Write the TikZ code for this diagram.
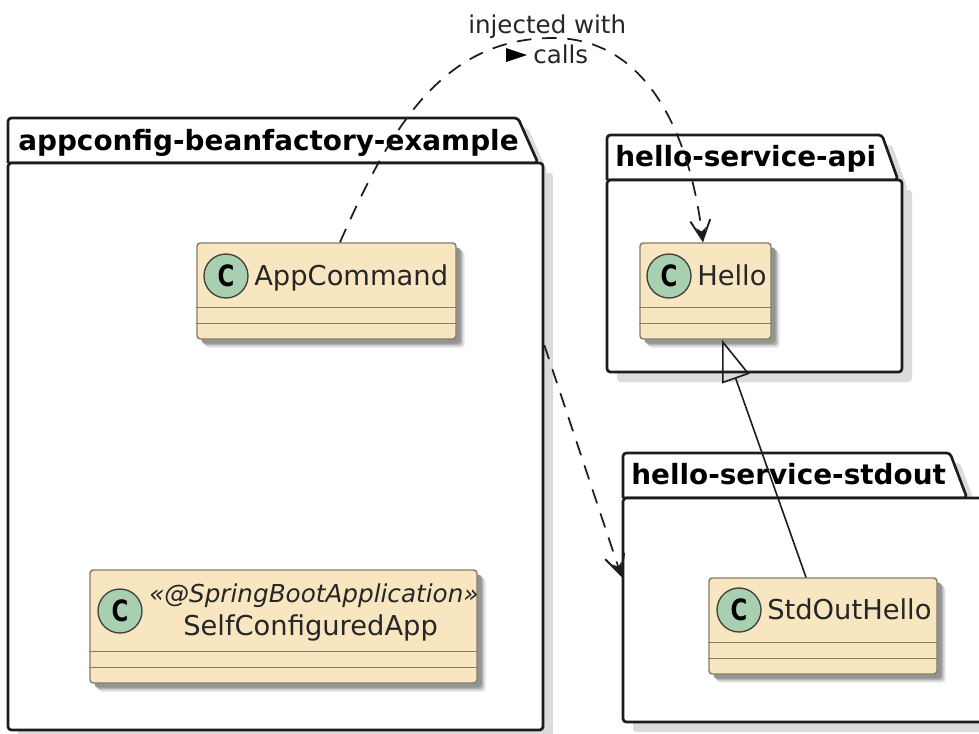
\documentclass[tikz,border=0pt]{standalone}
\usepackage{fontspec}
\setmainfont{DejaVu Sans}
\usetikzlibrary{arrows.meta,shadows}
\def\pxu{0.75pt}
\definecolor{classfill}{HTML}{F8E6C0}
\definecolor{classline}{HTML}{857B68}
\definecolor{spotfill}{HTML}{A8CFB0}
\definecolor{inkline}{HTML}{1C1C1C}
\tikzset{
  pkgshadow/.style={general shadow={shadow xshift=7.5pt,shadow yshift=-7.5pt,fill=black!14}},
  pkgbody/.style={draw=inkline,fill=white,line width=2pt,rounded corners=2.5pt,inner sep=0pt,pkgshadow},
  pkgtab/.style={draw=inkline,fill=white,line width=2pt,rounded corners=2.5pt,pkgshadow},
  pkgtitle/.style={anchor=base west,inner sep=0pt,font=\fontsize{20.9}{25}\selectfont\bfseries},
  classbox/.style={draw=classline,fill=classfill,line width=1.1pt,rounded corners=2.5pt,inner sep=0pt,
    general shadow={shadow xshift=6.6pt,shadow yshift=-6.6pt,fill=black!8},
    general shadow={shadow xshift=5.6pt,shadow yshift=-5.6pt,fill=black!18},
    general shadow={shadow xshift=4.6pt,shadow yshift=-4.6pt,fill=black!30},
    general shadow={shadow xshift=3.4pt,shadow yshift=-3.4pt,fill=black!42}},
  classsep/.style={draw=classline,line width=1.1pt},
  classname/.style={anchor=base west,inner sep=0pt,text=black!85,font=\fontsize{20.5}{25}\selectfont},
  stereotext/.style={anchor=base west,inner sep=0pt,text=black!85,font=\fontsize{18.5}{22}\selectfont\itshape},
  spot/.style={circle,draw=black!75,fill=spotfill,line width=1pt,minimum size=44*\pxu,inner sep=0pt,
    font=\fontsize{22}{25}\selectfont\bfseries},
  linktext/.style={anchor=base west,inner sep=0pt,text=black!85,font=\fontsize{18.4}{22}\selectfont},
  dep/.style={draw=inkline,line width=1.3pt,dash pattern=on 11pt off 8pt,
    -{Straight Barb[length=15pt,width=15pt,line width=1.4pt,sep=-11pt]Stealth[length=11pt,width=7pt,inset=3pt]}},
  inherit/.style={draw=inkline,line width=1.2pt,{Triangle[open,length=31pt,width=21.5pt]}-}
}
\newcommand{\spotc}{\scalebox{0.78}[1]{C}}
\begin{document}
\begin{tikzpicture}[x=0.75pt,y=-0.75pt]
\clip (0,0) rectangle (979,733);
% appconfig package
\draw[pkgtab] (8,163) -- (8,118) -- (518,118) -- (538,163) -- (8,163);
\node[pkgbody,minimum width=535*\pxu,minimum height=567*\pxu] (appbody) at (275.5,446.5) {};
\node[pkgtitle] (apptitle) at (18,150) {appconfig-beanfactory-example};
% hello api package
\draw[pkgtab] (607,180) -- (607,135) -- (882,135) -- (898,180) -- (607,180);
\node[pkgbody,minimum width=295*\pxu,minimum height=192*\pxu] (apibody) at (754.5,276) {};
\node[pkgtitle] (apititle) at (615,166) {hello-service-api};
% hello stdout package
\draw[pkgtab] (623,498) -- (623,453) -- (950,453) -- (967,498) -- (623,498);
\node[pkgbody,minimum width=377*\pxu,minimum height=224*\pxu] (stdbody) at (811.5,610) {};
\node[pkgtitle] (stdtitle) at (631,484) {hello-service-stdout};
% classes
\node[classbox,minimum width=259*\pxu,minimum height=96*\pxu] (appcommand) at (326.5,291) {};
\node[spot] (appcommandspot) at (226,276) {\spotc};
\node[classname] (appcommandname) at (254,285) {AppCommand};
\node[classbox,minimum width=131*\pxu,minimum height=96*\pxu] (hello) at (705.5,291) {};
\node[spot] (hellospot) at (669,276) {\spotc};
\node[classname] (helloname) at (697,285) {Hello};
\node[classbox,minimum width=387*\pxu,minimum height=113*\pxu] (selfapp) at (283.5,626.5) {};
\node[spot] (selfappspot) at (120,611) {\spotc};
\node[stereotext] (selfappstereo) at (149,602) {«@SpringBootApplication»};
\node[classname] (selfappname) at (183,635) {SelfConfiguredApp};
\node[classbox,minimum width=228*\pxu,minimum height=96*\pxu] (stdout) at (823,626) {};
\node[spot] (stdoutspot) at (739,610) {\spotc};
\node[classname] (stdoutname) at (767,619) {StdOutHello};
\foreach \cls in {appcommand,hello,selfapp,stdout} {
  \draw[classsep] ([yshift=12pt]\cls.south west) -- ([yshift=12pt]\cls.south east);
  \draw[classsep] ([yshift=24pt]\cls.south west) -- ([yshift=24pt]\cls.south east);
}
% links
\coordinate (linktop) at (553,38);
\draw[dep] ([xshift=10.1pt]appcommand.north) to [out=66,in=180] (linktop) to [out=0,in=97] ([xshift=-1.9pt]hello.north);
\draw[dep] ([yshift=76pt]appbody.east) -- ([yshift=24.75pt]stdbody.west);
\draw[inherit] ([xshift=12.4pt]hello.south) -- ([xshift=-12.75pt]stdout.north);
\node[linktext] (linkwith) at (468,33) {injected with};
\node[linktext] (linkcalls) at (533,63) {calls};
\fill[black] (506,48) -- (527,55) -- (506,62) -- cycle;
\end{tikzpicture}
\end{document}
